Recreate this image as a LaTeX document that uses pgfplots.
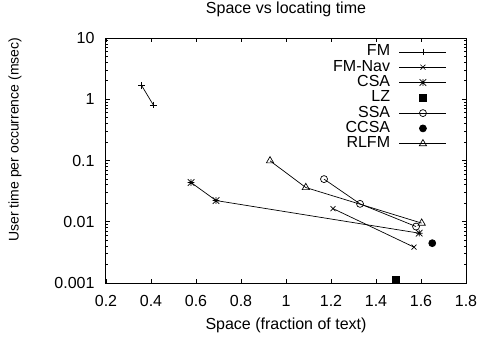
\documentclass[border=0pt]{standalone}
\usepackage{fontspec}
\setmainfont{Liberation Sans}
\usepackage{pgfplots}
\pgfplotsset{compat=1.18}
\pgfdeclareplotmark{gpstar}{%
  \pgfpathmoveto{\pgfqpoint{-\pgfplotmarksize}{0pt}}\pgfpathlineto{\pgfqpoint{\pgfplotmarksize}{0pt}}%
  \pgfpathmoveto{\pgfqpoint{0pt}{-\pgfplotmarksize}}\pgfpathlineto{\pgfqpoint{0pt}{\pgfplotmarksize}}%
  \pgfpathmoveto{\pgfqpoint{-\pgfplotmarksize}{-\pgfplotmarksize}}\pgfpathlineto{\pgfqpoint{\pgfplotmarksize}{\pgfplotmarksize}}%
  \pgfpathmoveto{\pgfqpoint{-\pgfplotmarksize}{\pgfplotmarksize}}\pgfpathlineto{\pgfqpoint{\pgfplotmarksize}{-\pgfplotmarksize}}%
  \pgfusepathqstroke}
\begin{document}
\begin{tikzpicture}[font=\fontsize{16bp}{18bp}\selectfont]
\useasboundingbox (-106bp,-54bp) rectangle (374bp,283bp);
\begin{axis}[
  at={(0,0)}, anchor=south west,
  scale only axis, width=360bp, height=245bp,
  ymode=log,
  xmin=0.2, xmax=1.8, ymin=0.001, ymax=10,
  xtick={0.2,0.4,0.6,0.8,1,1.2,1.4,1.6,1.8},
  xticklabels={0.2,0.4,0.6,0.8,1,1.2,1.4,1.6,1.8},
  ytick={0.001,0.01,0.1,1,10},
  yticklabels={0.001,0.01,0.1,1,10},
  minor ytick={0.002,0.003,0.004,0.005,0.006,0.007,0.008,0.009,
    0.02,0.03,0.04,0.05,0.06,0.07,0.08,0.09,
    0.2,0.3,0.4,0.5,0.6,0.7,0.8,0.9,2,3,4,5,6,7,8,9},
  tick align=inside,
  major tick length=4bp, minor tick length=2bp,
  every tick/.style={black, line width=0.8bp},
  axis line style={line width=1bp},
  xticklabel style={anchor=base, yshift=-23.4bp, inner sep=0pt},
  yticklabel style={anchor=east, xshift=-11.3bp, inner sep=0pt},
  title={Space vs locating time},
  title style={at={(axis description cs:0.5,1.0776)}, anchor=base, inner sep=0pt},
  xlabel={Space (fraction of text)},
  xlabel style={at={(axis description cs:0.5,-0.1906)}, anchor=base, inner sep=0pt},
  ylabel={User time per occurrence (msec)},
  ylabel style={at={(axis description cs:-0.2528,0.585)}, anchor=center, rotate=0, inner sep=0pt, font=\fontsize{14bp}{16bp}\selectfont},
  legend plot pos=right,
  legend cell align=right,
  legend image code/.code={
    \draw[mark repeat=2,mark phase=2,#1] plot coordinates {(0bp,0bp) (23.5bp,0bp) (47bp,0bp)};
  },
  legend style={at={(axis description cs:1,1)}, anchor=north east, xshift=-19bp, yshift=-6.7bp,
    draw=none, fill=none, inner sep=0pt,
    nodes={inner sep=0pt, text height=11bp, text depth=3bp},
    row sep=1.3bp, column sep=0bp,
    /tikz/every odd column/.append style={column sep=9bp}},
  every axis plot/.append style={black, line width=0.7bp, mark options={solid, line width=0.7bp}},
]
\addplot[mark=+, mark size=3.3bp] coordinates {(0.359,1.66) (0.41,0.81)};
\addlegendentry{FM}
\addplot[mark=x, mark size=3.5bp] coordinates {(1.209,0.0164) (1.569,0.00385)};
\addlegendentry{FM-Nav}
\addplot[mark=gpstar, mark size=3.3bp] coordinates {(0.578,0.0437) (0.689,0.0222) (1.592,0.00651)};
\addlegendentry{CSA}
\addplot[only marks, mark=square*, mark size=3.5bp] coordinates {(1.489,0.00112)};
\addlegendentry{LZ}
\addplot[mark=o, mark size=3.5bp] coordinates {(1.169,0.0497) (1.329,0.0196) (1.578,0.00835)};
\addlegendentry{SSA}
\addplot[only marks, mark=*, mark size=3.5bp] coordinates {(1.650,0.00447)};
\addlegendentry{CCSA}
\addplot[mark=triangle, mark size=4.2bp] coordinates {(0.929,0.0989) (1.088,0.0362) (1.603,0.0095)};
\addlegendentry{RLFM}
\end{axis}
\end{tikzpicture}
\end{document}
